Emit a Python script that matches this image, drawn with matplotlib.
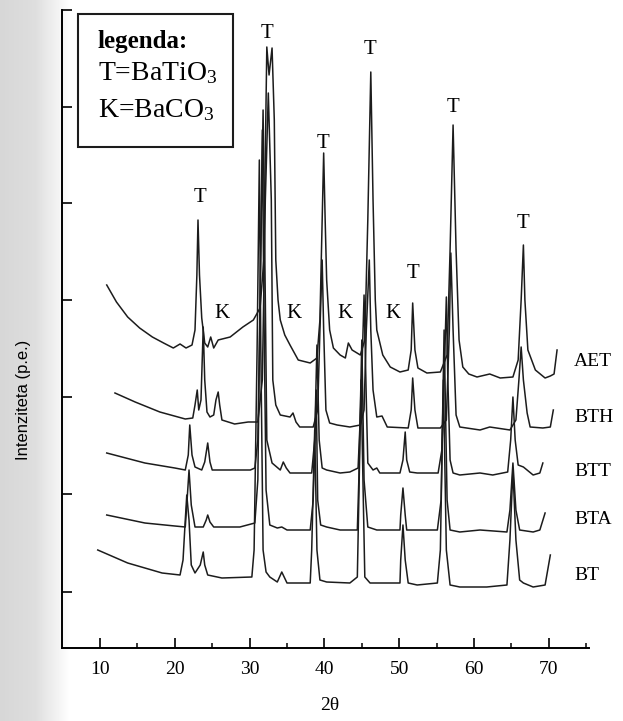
import numpy as np
import matplotlib.pyplot as plt
from matplotlib.patches import Rectangle

plt.rcParams['font.family'] = ['Liberation Serif', 'DejaVu Serif']
plt.rcParams['mathtext.fontset'] = 'custom'
plt.rcParams['mathtext.rm'] = 'Liberation Serif'
plt.rcParams['mathtext.it'] = 'Liberation Serif:italic'

# --- diffractograms (2theta, intensity in arbitrary units) ---
aet_2theta = [10.9, 12.2, 13.7, 15.3, 17.0, 18.5, 19.8, 20.7, 21.5, 22.3,
              22.7, 22.95, 23.1, 23.3, 23.6, 24.0, 24.4, 24.8, 25.2, 25.8,
              27.4, 29.1, 30.5, 31.4, 31.9, 32.2, 32.3, 32.6, 33.0, 33.3,
              33.5, 33.8, 34.1, 34.7, 35.4, 36.5, 38.1, 39.0, 39.4, 39.7,
              39.9, 40.1, 40.3, 40.7, 41.2, 42.1, 42.8, 43.2, 43.7, 44.8,
              45.4, 45.8, 46.2, 46.5, 46.8, 47.0, 47.8, 48.8, 50.1, 51.2,
              51.6, 51.8, 52.1, 52.5, 53.7, 55.5, 56.4, 56.8, 57.2, 57.6,
              58.0, 58.5, 59.3, 60.4, 62.1, 63.5, 65.2, 65.9, 66.3, 66.6,
              66.8, 67.2, 68.2, 69.5, 70.2, 70.7, 71.1]
aet_int = [355, 338, 323, 312, 303, 297, 292, 296, 292, 295,
           310, 365, 420, 365, 322, 297, 293, 303, 292, 300,
           303, 313, 320, 332, 380, 540, 593, 565, 592, 520,
           380, 340, 320, 305, 295, 280, 277, 282, 320, 420,
           487, 420, 360, 310, 292, 285, 282, 297, 290, 285,
           300, 420, 568, 440, 340, 310, 285, 273, 268, 270,
           290, 337, 290, 272, 267, 268, 285, 390, 515, 390,
           300, 273, 266, 263, 266, 262, 263, 280, 340, 395,
           340, 290, 270, 262, 264, 266, 290]

bth_2theta = [12.0, 14.7, 18.0, 21.4, 22.4, 22.7, 23.0, 23.2, 23.5, 23.8,
              24.0, 24.3, 24.7, 25.2, 25.5, 25.8, 26.0, 26.3, 28.0, 29.8,
              31.1, 31.7, 32.1, 32.5, 32.9, 33.1, 33.5, 34.1, 35.4, 35.8,
              36.2, 36.7, 38.5, 39.1, 39.4, 39.7, 39.9, 40.2, 40.7, 41.7,
              43.4, 44.8, 45.3, 45.6, 46.0, 46.2, 46.5, 47.0, 47.7, 48.4,
              51.2, 51.6, 51.8, 52.1, 52.5, 55.5, 56.3, 56.7, 56.9, 57.2,
              57.6, 58.1, 60.8, 62.1, 64.8, 65.6, 66.0, 66.3, 66.6, 67.1,
              67.5, 69.2, 70.2, 70.6]
bth_int = [247, 238, 228, 221, 222, 235, 250, 230, 240, 313,
           260, 228, 223, 225, 240, 248, 235, 220, 216, 218,
           218, 260, 440, 547, 440, 260, 235, 225, 223, 227,
           218, 213, 213, 230, 310, 380, 310, 230, 217, 215,
           213, 215, 230, 310, 380, 310, 250, 223, 224, 213,
           212, 230, 262, 230, 212, 212, 220, 310, 387, 310,
           225, 213, 210, 213, 210, 220, 260, 293, 260, 227,
           213, 212, 213, 230]

btt_2theta = [10.9, 16.0, 20.0, 21.4, 21.8, 22.0, 22.3, 22.7, 23.6, 24.0,
              24.4, 24.7, 25.0, 28.0, 30.1, 30.7, 31.1, 31.4, 31.8, 32.1,
              32.3, 33.0, 34.1, 34.5, 34.9, 35.4, 38.3, 38.7, 39.0, 39.3,
              39.7, 40.3, 42.1, 43.4, 44.5, 44.9, 45.3, 45.6, 45.8, 46.5,
              47.0, 47.4, 50.1, 50.5, 50.8, 51.0, 51.4, 52.4, 55.2, 55.7,
              56.0, 56.3, 56.5, 56.8, 57.2, 58.1, 60.8, 62.5, 64.5, 64.9,
              65.2, 65.5, 65.9, 66.6, 67.9, 68.8, 69.2]
btt_int = [187, 177, 172, 170, 185, 215, 185, 173, 170, 178,
           197, 178, 170, 170, 170, 172, 200, 340, 530, 340,
           200, 177, 170, 178, 172, 167, 167, 200, 295, 200,
           172, 170, 167, 168, 172, 240, 345, 240, 177, 170,
           172, 167, 167, 180, 208, 180, 168, 167, 167, 190,
           260, 343, 260, 180, 167, 165, 167, 165, 168, 200,
           243, 200, 175, 173, 165, 167, 177]

bta_2theta = [10.9, 16.0, 20.0, 21.4, 21.6, 21.9, 22.2, 22.7, 23.8, 24.2,
              24.4, 24.7, 25.2, 28.7, 30.7, 31.1, 31.4, 31.7, 31.9, 32.2,
              32.7, 33.7, 34.3, 35.0, 38.1, 38.5, 38.9, 39.1, 39.5, 40.3,
              42.1, 44.4, 44.6, 45.0, 45.3, 45.8, 47.0, 50.1, 50.2, 50.5,
              50.8, 51.0, 55.1, 55.6, 56.0, 56.4, 56.8, 58.1, 60.8, 64.4,
              64.8, 65.2, 65.6, 66.1, 67.9, 68.8, 69.5]
bta_int = [125, 117, 114, 113, 135, 170, 135, 113, 113, 120,
           125, 118, 113, 113, 117, 160, 340, 510, 340, 150,
           115, 112, 113, 110, 110, 140, 250, 140, 115, 113,
           110, 110, 160, 300, 160, 113, 110, 110, 125, 152,
           125, 110, 110, 140, 310, 140, 110, 108, 110, 108,
           130, 177, 130, 110, 108, 110, 127]

bt_2theta = [9.7, 13.7, 18.3, 20.7, 21.1, 21.4, 21.6, 21.9, 22.2, 22.7,
             23.4, 23.8, 24.0, 24.4, 26.3, 30.3, 30.6, 31.0, 31.3, 31.5,
             31.8, 32.2, 32.7, 33.7, 34.3, 35.0, 38.1, 38.3, 38.7, 39.0,
             39.4, 40.3, 43.4, 44.4, 44.6, 44.9, 45.2, 45.4, 46.1, 50.1,
             50.2, 50.5, 50.8, 51.2, 52.4, 55.1, 55.5, 55.9, 56.3, 56.8,
             58.1, 61.7, 64.4, 64.8, 65.2, 65.6, 66.1, 66.6, 67.9, 69.5,
             70.2]
bt_int = [90, 77, 67, 65, 80, 120, 145, 120, 75, 67,
          75, 88, 75, 65, 62, 63, 90, 290, 480, 290,
          90, 68, 63, 58, 68, 57, 57, 90, 210, 90,
          60, 58, 57, 63, 140, 260, 140, 63, 57, 57,
          80, 115, 80, 57, 55, 57, 90, 260, 90, 55,
          53, 53, 55, 100, 170, 100, 60, 57, 53, 55,
          85]

sample_names = ['AET', 'BTH', 'BTT', 'BTA', 'BT']
sample_label_int = [278, 223, 168, 120, 65]
sample_label_2theta = 73.4

# phase markers
t_2theta = [23.4, 32.3, 39.8, 46.1, 51.8, 57.2, 66.6]
t_int = [442, 607, 497, 590, 366, 533, 417]
k_2theta = [26.3, 35.9, 42.8, 49.2]
k_int = [327, 327, 327, 327]

x_major = [10, 20, 30, 40, 50, 60, 70]
x_minor = [15, 25, 35, 45, 55, 65, 75]
y_ticks = [48, 146, 243, 340, 437, 533, 630]

fig = plt.figure(figsize=(6.23, 7.21), dpi=100)

# greyish scan edge on the left
bg = fig.add_axes([0, 0, 1, 1], zorder=-10)
cols = np.arange(623)
shade = np.interp(cols, [0, 35, 70, 623], [0.84, 0.87, 1.0, 1.0])
bg.imshow(np.tile(shade, (10, 1)), cmap='gray', vmin=0, vmax=1,
          aspect='auto', extent=[0, 1, 0, 1])
bg.axis('off')

ax = fig.add_axes([62 / 623, 73 / 721, 527 / 623, 638 / 721])
ax.patch.set_alpha(0)

curves = [(aet_2theta, aet_int), (bth_2theta, bth_int), (btt_2theta, btt_int),
          (bta_2theta, bta_int), (bt_2theta, bt_int)]
for xs, ys in curves:
    ax.plot(xs, ys, color='#1c1c1c', lw=1.1, solid_joinstyle='round')

for name, yl in zip(sample_names, sample_label_int):
    ax.text(sample_label_2theta, yl, name, fontsize=14, ha='left', va='center',
            clip_on=False)

for xt, yt in zip(t_2theta, t_int):
    ax.text(xt, yt, 'T', fontsize=15, ha='center', va='center')
for xk, yk in zip(k_2theta, k_int):
    ax.text(xk, yk, 'K', fontsize=15, ha='center', va='center')

ax.set_xlim(4.92, 75.37)
ax.set_ylim(-8, 630)
ax.set_xticks(x_major)
ax.set_xticks(x_minor, minor=True)
ax.set_yticks(y_ticks)
ax.set_yticklabels([])
ax.tick_params(axis='x', which='major', direction='in', length=7, width=1.2,
               labelsize=14, pad=9)
ax.tick_params(axis='x', which='minor', direction='in', length=3.5, width=1.1)
ax.tick_params(axis='y', direction='in', length=7, width=1.2)
for s in ['top', 'right']:
    ax.spines[s].set_visible(False)
for s in ['left', 'bottom']:
    ax.spines[s].set_linewidth(1.4)

fig.text(330 / 623, 1 - 706 / 721, '2θ', fontsize=14, ha='center', va='center')
fig.text(24 / 623, 1 - 400 / 721, 'Intenziteta (p.e.)', rotation=90,
         fontsize=12, ha='center', va='center',
         family=['Liberation Sans Narrow', 'Liberation Sans', 'DejaVu Sans'])

# legend box
fig.patches.append(Rectangle((78 / 623, 1 - 147 / 721), 155 / 623, 133 / 721,
                             transform=fig.transFigure, fill=False,
                             lw=1.5, ec='#1c1c1c'))
fig.text(98 / 623, 1 - 48 / 721, 'legenda:', fontsize=18, weight='bold',
         ha='left', va='baseline')
fig.text(98 / 623, 1 - 80 / 721, 'T=BaTiO$_3$', fontsize=20,
         ha='left', va='baseline')
fig.text(98 / 623, 1 - 117 / 721, 'K=BaCO$_3$', fontsize=20,
         ha='left', va='baseline')

fig.savefig('out.png', dpi=100)
